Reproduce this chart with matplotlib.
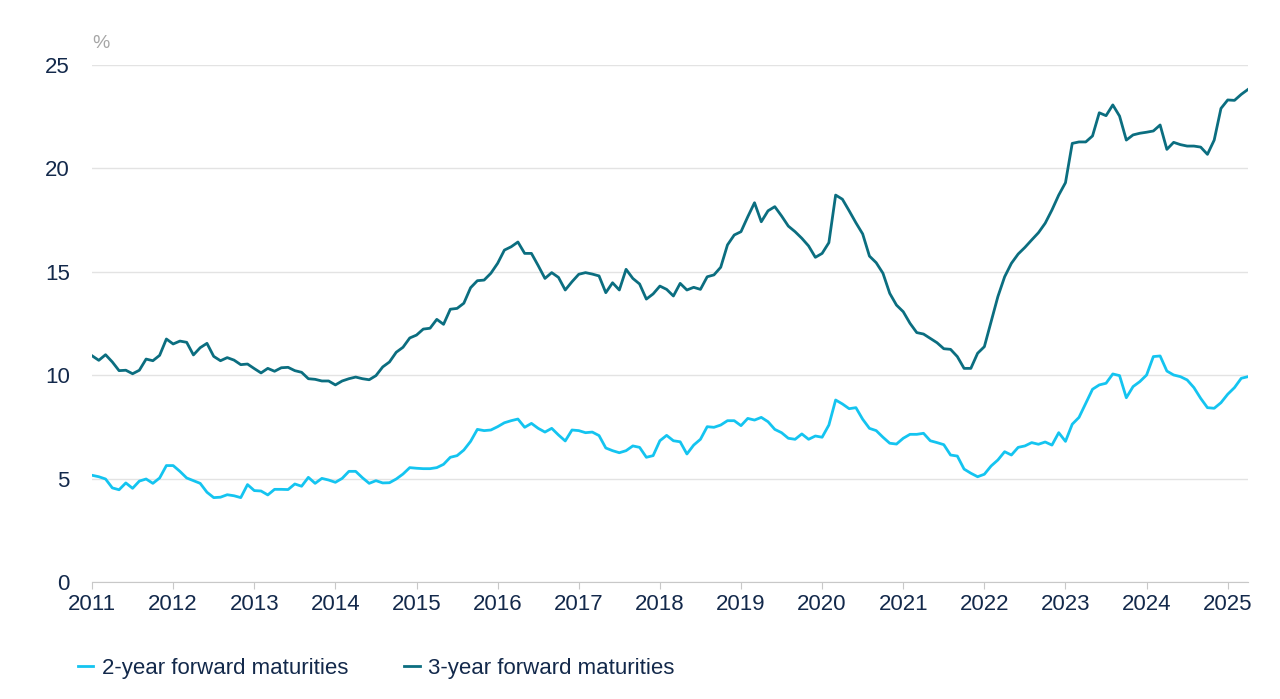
import numpy as np
import pandas as pd
import matplotlib
matplotlib.use("Agg")
import matplotlib.pyplot as plt

# monthly data, Jan 2011 - Apr 2025 (%)
start = "2011-01"
two_year = [
    5.16, 5.09, 4.98, 4.55, 4.46, 4.79, 4.53, 4.88, 4.98, 4.77, 5.03, 5.63,
    5.63, 5.35, 5.03, 4.90, 4.77, 4.34, 4.08, 4.10, 4.22, 4.17, 4.08, 4.71,
    4.42, 4.40, 4.21, 4.48, 4.48, 4.47, 4.74, 4.63, 5.06, 4.77, 5.01, 4.93,
    4.82, 5.01, 5.35, 5.35, 5.04, 4.77, 4.90, 4.79, 4.80, 4.98, 5.22, 5.53,
    5.50, 5.48, 5.48, 5.53, 5.69, 6.03, 6.11, 6.38, 6.80, 7.38, 7.32, 7.35,
    7.51, 7.70, 7.80, 7.88, 7.48, 7.67, 7.43, 7.25, 7.43, 7.11, 6.82, 7.35,
    7.32, 7.22, 7.25, 7.08, 6.48, 6.35, 6.25, 6.35, 6.58, 6.51, 6.03, 6.11,
    6.83, 7.09, 6.83, 6.78, 6.19, 6.62, 6.90, 7.51, 7.48, 7.59, 7.80, 7.80,
    7.56, 7.91, 7.83, 7.96, 7.75, 7.38, 7.22, 6.95, 6.90, 7.16, 6.90, 7.06,
    7.00, 7.59, 8.80, 8.61, 8.38, 8.43, 7.87, 7.43, 7.32, 7.00, 6.71, 6.67,
    6.95, 7.14, 7.14, 7.19, 6.83, 6.74, 6.64, 6.14, 6.09, 5.46, 5.26, 5.09,
    5.21, 5.61, 5.90, 6.30, 6.14, 6.51, 6.58, 6.74, 6.66, 6.77, 6.62, 7.22,
    6.80, 7.63, 7.96, 8.64, 9.32, 9.53, 9.61, 10.06, 9.98, 8.91, 9.45, 9.69,
    10.01, 10.90, 10.93, 10.20, 10.01, 9.93, 9.77, 9.40, 8.88, 8.43, 8.40, 8.67,
    9.08, 9.40, 9.85, 9.93,
]
three_year = [
    10.94, 10.72, 10.99, 10.64, 10.22, 10.24, 10.07, 10.24, 10.78, 10.70, 10.96, 11.75,
    11.51, 11.65, 11.59, 10.98, 11.33, 11.54, 10.91, 10.70, 10.85, 10.73, 10.51, 10.54,
    10.32, 10.11, 10.33, 10.19, 10.36, 10.38, 10.22, 10.14, 9.83, 9.80, 9.72, 9.72,
    9.53, 9.72, 9.83, 9.91, 9.83, 9.78, 9.98, 10.40, 10.64, 11.11, 11.35, 11.80,
    11.94, 12.23, 12.27, 12.70, 12.46, 13.19, 13.23, 13.48, 14.23, 14.57, 14.60, 14.93,
    15.41, 16.05, 16.21, 16.44, 15.89, 15.89, 15.30, 14.68, 14.96, 14.73, 14.12, 14.52,
    14.88, 14.96, 14.89, 14.80, 13.99, 14.47, 14.12, 15.12, 14.68, 14.41, 13.68, 13.93,
    14.31, 14.15, 13.83, 14.44, 14.12, 14.25, 14.15, 14.76, 14.85, 15.22, 16.30, 16.78,
    16.94, 17.66, 18.34, 17.42, 17.95, 18.15, 17.70, 17.21, 16.94, 16.62, 16.25, 15.70,
    15.89, 16.41, 18.71, 18.51, 17.95, 17.37, 16.83, 15.76, 15.44, 14.93, 13.96, 13.39,
    13.07, 12.51, 12.06, 11.99, 11.78, 11.57, 11.28, 11.25, 10.90, 10.33, 10.33, 11.06,
    11.38, 12.59, 13.80, 14.76, 15.41, 15.86, 16.18, 16.54, 16.89, 17.35, 17.99, 18.71,
    19.31, 21.21, 21.28, 21.28, 21.57, 22.69, 22.55, 23.07, 22.53, 21.37, 21.62, 21.70,
    21.75, 21.81, 22.10, 20.92, 21.26, 21.15, 21.08, 21.08, 21.03, 20.68, 21.37, 22.90,
    23.31, 23.29, 23.58, 23.82,
]
years = list(range(2011, 2026))
labels = ["2-year forward maturities", "3-year forward maturities"]

dates = pd.period_range(start, periods=len(two_year), freq="M")
x = dates.year + (dates.month - 1) / 12.0

navy = "#13294b"
plt.rcParams["font.family"] = ["Liberation Sans Narrow", "Liberation Sans", "DejaVu Sans"]

fig = plt.figure(figsize=(12.8, 6.99), dpi=100)
ax = fig.add_axes([0.0719, 0.1674, 0.9031, 0.7396])

ax.plot(x, two_year, color="#14c4f0", lw=2.0, label=labels[0])
ax.plot(x, three_year, color="#0b6e80", lw=2.0, label=labels[1])

ax.set_xlim(2011, x[-1])
ax.set_ylim(0, 25)
ax.set_yticks([0, 5, 10, 15, 20, 25])
ax.set_xticks(years)
ax.set_xticklabels([str(y) for y in years])
ax.grid(axis="y", color="#e3e3e3", lw=1)
ax.set_axisbelow(True)
for s in ["top", "right", "left"]:
    ax.spines[s].set_visible(False)
ax.spines["bottom"].set_color("#c8c8c8")
ax.tick_params(axis="y", length=0, pad=16, labelsize=16, labelcolor=navy)
ax.tick_params(axis="x", length=5, color="#c8c8c8", pad=4, labelsize=16, labelcolor=navy)

ax.text(0.0, 1.025, "%", transform=ax.transAxes, fontsize=14, color="#a6a6a6",
        ha="left", va="bottom")

fig.legend(loc="lower left", bbox_to_anchor=(0.045, 0.0), ncol=2, frameon=False,
           fontsize=16, labelcolor=navy, handlelength=0.7, handletextpad=0.4,
           columnspacing=2.5)

fig.savefig("out.png", dpi=100)
